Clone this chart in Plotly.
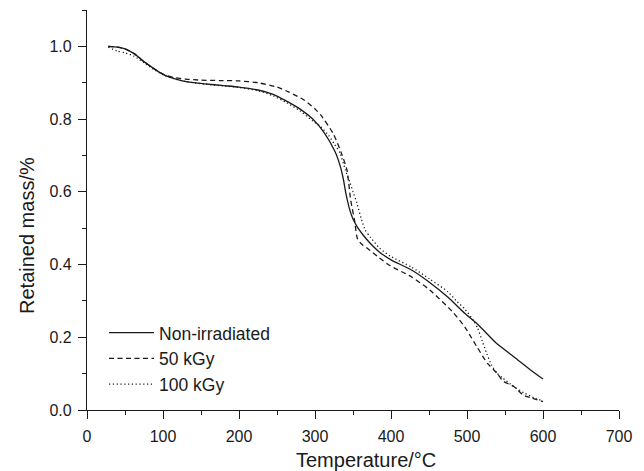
import plotly.graph_objects as go

# Temperature (°C) and retained mass for each sample
t_non = [28, 40, 50, 62, 75, 90, 102, 115, 130, 155, 180, 200, 225, 245, 262, 280, 297, 312,
         326, 333, 337, 341, 345, 350, 356, 363, 372, 385, 400, 427, 450, 475, 497, 515, 538,
         562, 585, 600]
m_non = [1.000, 0.998, 0.993, 0.980, 0.958, 0.936, 0.921, 0.911, 0.903, 0.897, 0.892, 0.888,
         0.880, 0.868, 0.850, 0.828, 0.800, 0.763, 0.712, 0.672, 0.638, 0.592, 0.556, 0.525,
         0.502, 0.482, 0.460, 0.434, 0.413, 0.385, 0.352, 0.310, 0.266, 0.234, 0.185, 0.146,
         0.108, 0.085]

t_50 = [28, 40, 50, 62, 75, 90, 102, 115, 130, 150, 175, 200, 225, 250, 265, 286, 300, 308,
        324, 335, 342, 347, 352, 356, 362, 368, 383, 398, 427, 451, 481, 497, 504, 513, 527,
        540, 547, 562, 574, 585, 600]
m_50 = [1.000, 0.998, 0.993, 0.980, 0.958, 0.936, 0.922, 0.914, 0.910, 0.907, 0.906, 0.905,
        0.900, 0.888, 0.875, 0.852, 0.828, 0.810, 0.760, 0.705, 0.660, 0.577, 0.522, 0.470,
        0.455, 0.446, 0.421, 0.398, 0.366, 0.330, 0.270, 0.229, 0.205, 0.174, 0.128, 0.100,
        0.080, 0.064, 0.041, 0.033, 0.023]

t_100 = [28, 40, 50, 62, 75, 90, 102, 115, 130, 155, 180, 200, 225, 245, 262, 280, 297, 308,
         318, 326, 333, 340, 346, 350, 355, 361, 366, 373, 385, 400, 427, 451, 475, 486, 497,
         508, 514, 520, 526, 532, 539, 547, 561, 575, 590, 600]
m_100 = [0.998, 0.987, 0.982, 0.973, 0.955, 0.934, 0.920, 0.911, 0.903, 0.896, 0.891, 0.887,
         0.878, 0.864, 0.846, 0.823, 0.795, 0.778, 0.755, 0.730, 0.706, 0.660, 0.625, 0.600,
         0.570, 0.525, 0.495, 0.475, 0.445, 0.422, 0.393, 0.360, 0.325, 0.300, 0.278, 0.248,
         0.225, 0.190, 0.155, 0.125, 0.102, 0.088, 0.065, 0.047, 0.032, 0.025]

series_names = ["Non-irradiated", "50 kGy", "100 kGy"]
x_ticks = [0, 100, 200, 300, 400, 500, 600, 700]
y_ticks = [0.0, 0.2, 0.4, 0.6, 0.8, 1.0]
y_tick_labels = ["0.0", "0.2", "0.4", "0.6", "0.8", "1.0"]
x_title = "Temperature/°C"
y_title = "Retained mass/%"

FONT = "Liberation Sans, Arial, sans-serif"
INK = "#1a1a1a"

fig = go.Figure()
styles = ["solid", "5px,3.5px", "1.2px,2.6px"]
for name, xs, ys, dash in zip(series_names, [t_non, t_50, t_100], [m_non, m_50, m_100], styles):
    fig.add_trace(go.Scatter(
        x=xs, y=ys, mode="lines", name=name,
        line=dict(color=INK, width=1.3, dash=dash, shape="spline", smoothing=0.6),
    ))

axis_common = dict(
    showline=True, linecolor=INK, linewidth=1.3, mirror=False,
    ticks="outside", ticklen=8, tickwidth=1.2, tickcolor=INK,
    showgrid=False, zeroline=False,
    tickfont=dict(family=FONT, size=16, color=INK),
)

# page has an 8px body margin; the figure is sized so it fits the 644x471 window
fig.update_layout(
    width=636, height=463,
    margin=dict(l=79, r=25, t=2, b=61),
    paper_bgcolor="white", plot_bgcolor="white",
    font=dict(family=FONT, color=INK),
    showlegend=True,
    legend=dict(
        x=0.032, y=0.238, xanchor="left", yanchor="top",
        bgcolor="rgba(0,0,0,0)", borderwidth=0,
        font=dict(family=FONT, size=17.5, color=INK),
        tracegroupgap=0, itemwidth=45,
    ),
    xaxis=dict(
        range=[0, 700], tickvals=x_ticks, ticklabelstandoff=4,
        minor=dict(dtick=50, ticks="outside", ticklen=4, tickwidth=1.2, tickcolor=INK, showgrid=False),
        **axis_common,
    ),
    yaxis=dict(
        range=[0, 1.1], tickvals=y_ticks, ticktext=y_tick_labels, ticklabelstandoff=3,
        minor=dict(dtick=0.1, ticks="outside", ticklen=4, tickwidth=1.2, tickcolor=INK, showgrid=False),
        **axis_common,
    ),
    annotations=[
        dict(text=x_title, xref="paper", yref="paper", x=0.5244, y=-0.125,
             xanchor="center", yanchor="middle", showarrow=False,
             font=dict(family=FONT, size=20, color=INK)),
        dict(text=y_title, xref="paper", yref="paper", x=-0.1128, y=0.4375,
             xanchor="center", yanchor="middle", showarrow=False, textangle=-90,
             font=dict(family=FONT, size=20, color=INK)),
    ],
)

fig.write_html("out.html")
